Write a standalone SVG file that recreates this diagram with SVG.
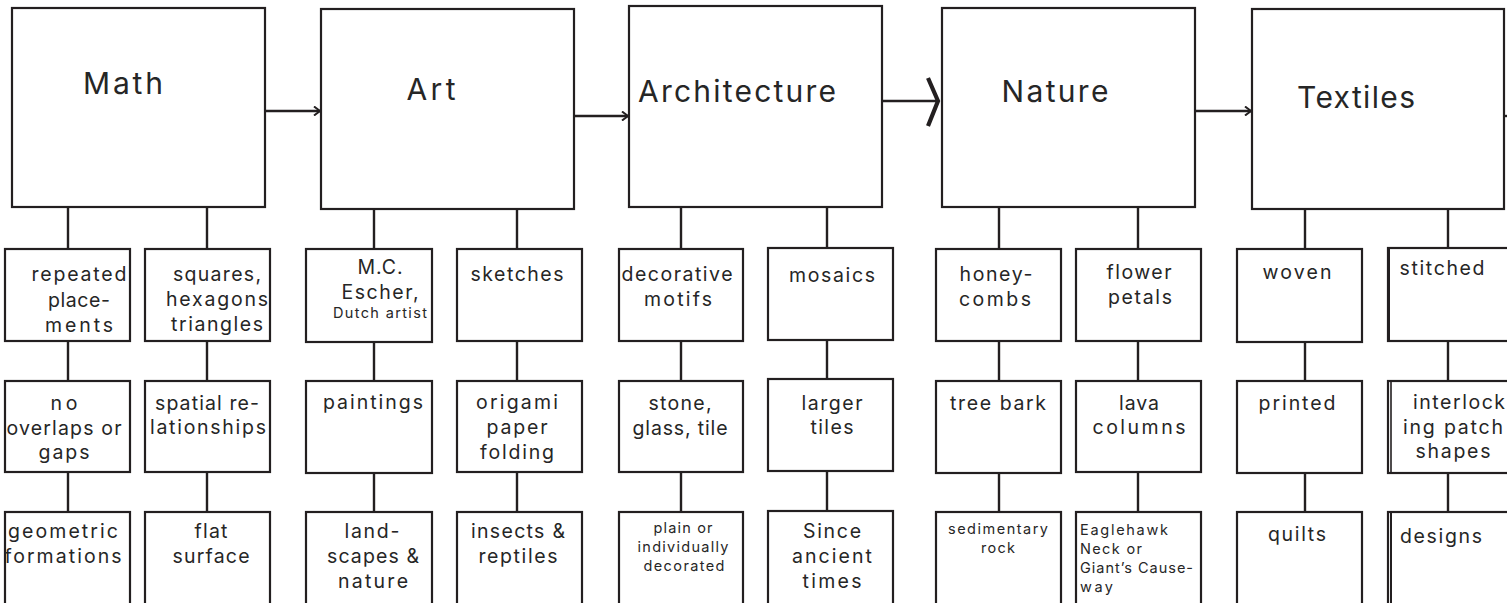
<svg xmlns="http://www.w3.org/2000/svg" width="1507" height="603" viewBox="0 0 1507 603">
<style>
.box{fill:#fff;stroke:#231f20;stroke-width:2.2}
.ln{fill:none;stroke:#231f20;stroke-width:2.4}
.t{font-family:Inter,'Open Sans','Liberation Sans',sans-serif;font-size:19.5px;fill:#262626;text-anchor:middle}
.h{font-size:30px}
.s{font-size:14.5px}
.l{text-anchor:start}
</style>
<defs>
<marker id="ah" viewBox="0 0 8 10" refX="7" refY="5" markerWidth="8" markerHeight="10" markerUnits="userSpaceOnUse" orient="auto">
<path d="M1,0.5 L7,5 L1,9.5" fill="none" stroke="#231f20" stroke-width="2"/>
</marker>
</defs>
<rect width="1507" height="603" fill="#fff"/>
<g id="connectors">
<line class="ln" x1="265" y1="111" x2="320" y2="111" marker-end="url(#ah)"/>
<line class="ln" x1="574" y1="116" x2="628" y2="116" marker-end="url(#ah)"/>
<line class="ln" x1="882" y1="101" x2="937" y2="101"/>
<path d="M928,78 L938,101 L928,126" fill="none" stroke="#231f20" stroke-width="4.2"/>
<line class="ln" x1="1195" y1="111" x2="1251" y2="111" marker-end="url(#ah)"/>
<line class="ln" x1="1504" y1="116" x2="1507" y2="116"/>
<path class="ln" d="M68,207V249M68,341V381M68,472V512M207,207V249M207,341V381M207,472V512"/>
<path class="ln" d="M374,209V249M374,342V381M374,473V512M517,209V249M517,341V381M517,472V512"/>
<path class="ln" d="M681,207V249M681,341V381M681,472V512M827,207V248M827,340V379M827,471V511"/>
<path class="ln" d="M999,207V249M999,341V381M999,473V512M1138,207V249M1138,341V381M1138,472V512"/>
<path class="ln" d="M1305,209V249M1305,342V381M1305,473V512M1448,209V248M1448,341V381M1448,473V512"/>
</g>
<g id="math">
<rect class="box" x="12" y="8" width="253" height="199"/>
<text class="t h" x="123" y="94" textLength="80">Math</text>
</g>
<g id="art">
<rect class="box" x="321" y="9" width="253" height="200"/>
<text class="t h" x="431" y="100" textLength="49">Art</text>
</g>
<g id="architecture">
<rect class="box" x="629" y="6" width="253" height="201"/>
<text class="t h" x="737" y="102" textLength="198">Architecture</text>
</g>
<g id="nature">
<rect class="box" x="942" y="8" width="253" height="199"/>
<text class="t h" x="1055" y="102" textLength="107">Nature</text>
</g>
<g id="textiles">
<rect class="box" x="1252" y="9" width="252" height="200"/>
<text class="t h" x="1356" y="108" textLength="118">Textiles</text>
</g>
<g id="math-1-1"><rect class="box" x="5" y="249" width="125" height="92"/>
<text class="t" x="79" y="281" textLength="95">repeated</text><text class="t" x="79" y="307" textLength="62">place-</text><text class="t" x="79" y="332" textLength="68">ments</text></g>
<g id="math-1-2"><rect class="box" x="5" y="381" width="125" height="91"/>
<text class="t" x="64" y="410" textLength="27">no</text><text class="t" x="64" y="435" textLength="115">overlaps or</text><text class="t" x="64" y="459" textLength="51">gaps</text></g>
<g id="math-1-3"><rect class="box" x="5" y="512" width="125" height="100"/>
<text class="t" x="63" y="538" textLength="110">geometric</text><text class="t" x="63" y="563" textLength="117">formations</text></g>
<g id="math-2-1"><rect class="box" x="145" y="249" width="125" height="92"/>
<text class="t" x="217" y="281" textLength="88">squares,</text><text class="t" x="217" y="306" textLength="102">hexagons</text><text class="t" x="217" y="331" textLength="92">triangles</text></g>
<g id="math-2-2"><rect class="box" x="145" y="381" width="125" height="91"/>
<text class="t" x="207" y="410" textLength="104">spatial re-</text><text class="t" x="208" y="434" textLength="116">lationships</text></g>
<g id="math-2-3"><rect class="box" x="145" y="512" width="125" height="100"/>
<text class="t" x="211" y="538" textLength="33">flat</text><text class="t" x="211" y="563" textLength="77">surface</text></g>
<g id="art-1-1"><rect class="box" x="306" y="249" width="126" height="93"/>
<text class="t" x="380" y="274" textLength="45">M.C.</text><text class="t" x="380" y="299" textLength="77">Escher,</text><text class="t s" x="380" y="318" textLength="94">Dutch artist</text></g>
<g id="art-1-2"><rect class="box" x="306" y="381" width="126" height="92"/>
<text class="t" x="373" y="409" textLength="100">paintings</text></g>
<g id="art-1-3"><rect class="box" x="306" y="512" width="126" height="100"/>
<text class="t" x="372" y="538" textLength="55">land-</text><text class="t" x="373" y="563" textLength="92">scapes &amp;</text><text class="t" x="373" y="588" textLength="70">nature</text></g>
<g id="art-2-1"><rect class="box" x="457" y="249" width="125" height="92"/>
<text class="t" x="517" y="281" textLength="93">sketches</text></g>
<g id="art-2-2"><rect class="box" x="457" y="381" width="125" height="91"/>
<text class="t" x="517" y="409" textLength="82">origami</text><text class="t" x="517" y="434" textLength="61">paper</text><text class="t" x="517" y="459" textLength="74">folding</text></g>
<g id="art-2-3"><rect class="box" x="457" y="512" width="125" height="100"/>
<text class="t" x="518" y="538" textLength="94">insects &amp;</text><text class="t" x="518" y="563" textLength="79">reptiles</text></g>
<g id="arch-1-1"><rect class="box" x="619" y="249" width="124" height="92"/>
<text class="t" x="677" y="281" textLength="111">decorative</text><text class="t" x="678" y="306" textLength="68">motifs</text></g>
<g id="arch-1-2"><rect class="box" x="619" y="381" width="124" height="91"/>
<text class="t" x="680" y="410" textLength="63">stone,</text><text class="t" x="680" y="435" textLength="95">glass, tile</text></g>
<g id="arch-1-3"><rect class="box" x="619" y="512" width="124" height="100"/>
<text class="t s" x="683" y="533" textLength="59">plain or</text><text class="t s" x="683" y="552" textLength="91">individually</text><text class="t s" x="684" y="571" textLength="81">decorated</text></g>
<g id="arch-2-1"><rect class="box" x="768" y="248" width="125" height="92"/>
<text class="t" x="832" y="282" textLength="86">mosaics</text></g>
<g id="arch-2-2"><rect class="box" x="768" y="379" width="125" height="92"/>
<text class="t" x="832" y="410" textLength="61">larger</text><text class="t" x="832" y="434" textLength="43">tiles</text></g>
<g id="arch-2-3"><rect class="box" x="768" y="511" width="125" height="100"/>
<text class="t" x="832" y="538" textLength="58">Since</text><text class="t" x="832" y="563" textLength="80">ancient</text><text class="t" x="832" y="588" textLength="59">times</text></g>
<g id="nature-1-1"><rect class="box" x="936" y="249" width="125" height="92"/>
<text class="t" x="996" y="281" textLength="73">honey-</text><text class="t" x="995" y="306" textLength="72">combs</text></g>
<g id="nature-1-2"><rect class="box" x="936" y="381" width="125" height="92"/>
<text class="t" x="998" y="410" textLength="96">tree bark</text></g>
<g id="nature-1-3"><rect class="box" x="936" y="512" width="125" height="100"/>
<text class="t s" x="998" y="534" textLength="100">sedimentary</text><text class="t s" x="998" y="553" textLength="34">rock</text></g>
<g id="nature-2-1"><rect class="box" x="1076" y="249" width="125" height="92"/>
<text class="t" x="1139" y="279" textLength="65">flower</text><text class="t" x="1140" y="304" textLength="64">petals</text></g>
<g id="nature-2-2"><rect class="box" x="1076" y="381" width="125" height="91"/>
<text class="t" x="1139" y="410" textLength="40">lava</text><text class="t" x="1139" y="434" textLength="93">columns</text></g>
<g id="nature-2-3"><rect class="box" x="1076" y="512" width="125" height="100"/>
<text class="t s l" x="1080" y="535" textLength="88">Eaglehawk</text><text class="t s l" x="1080" y="554" textLength="62">Neck or</text><text class="t s l" x="1080" y="573" textLength="113">Giant’s Cause-</text><text class="t s l" x="1080" y="592" textLength="33">way</text></g>
<g id="textiles-1-1"><rect class="box" x="1237" y="249" width="125" height="93"/>
<text class="t" x="1297" y="279" textLength="69">woven</text></g>
<g id="textiles-1-2"><rect class="box" x="1237" y="381" width="125" height="92"/>
<text class="t" x="1297" y="410" textLength="77">printed</text></g>
<g id="textiles-1-3"><rect class="box" x="1237" y="512" width="125" height="100"/>
<text class="t" x="1297" y="541" textLength="58">quilts</text></g>
<g id="textiles-2-1"><rect class="box" x="1388" y="248" width="125" height="93"/>
<line class="ln" x1="1389" y1="248" x2="1389" y2="341" style="stroke-width:2"/>
<text class="t" x="1442" y="275" textLength="85">stitched</text></g>
<g id="textiles-2-2"><rect class="box" x="1388" y="381" width="125" height="92"/>
<line class="ln" x1="1391" y1="381" x2="1391" y2="473" style="stroke-width:1.6"/>
<text class="t" x="1459" y="409" textLength="92">interlock</text><text class="t" x="1453" y="434" textLength="100">ing patch</text><text class="t" x="1453" y="458" textLength="75">shapes</text></g>
<g id="textiles-2-3"><rect class="box" x="1388" y="512" width="125" height="100"/>
<line class="ln" x1="1391" y1="512" x2="1391" y2="612" style="stroke-width:2"/>
<text class="t" x="1441" y="543" textLength="82">designs</text></g>
</svg>
